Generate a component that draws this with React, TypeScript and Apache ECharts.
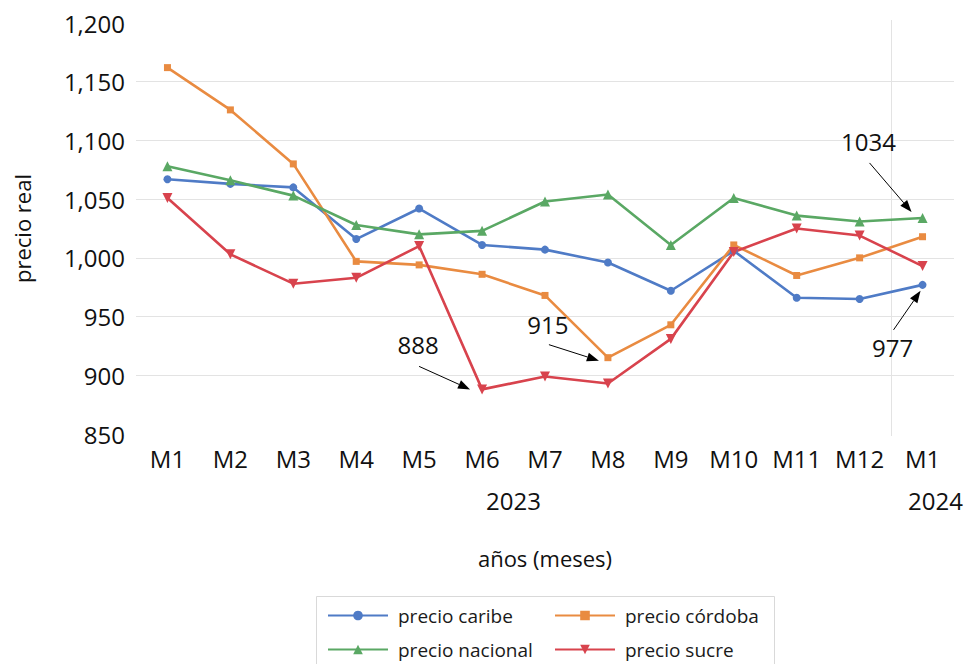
import React, { useEffect, useRef } from 'react';
import * as echarts from 'echarts';

const categories = ['M1', 'M2', 'M3', 'M4', 'M5', 'M6', 'M7', 'M8', 'M9', 'M10', 'M11', 'M12', 'M1'];
const yearGroups = [
  { label: '2023', from: 0, to: 11 },
  { label: '2024', from: 12, to: 12 },
];
const yMin = 850;
const yMax = 1200;
const yInterval = 50;

const precioCaribe = [1067, 1063, 1060, 1016, 1042, 1011, 1007, 996, 972, 1006, 966, 965, 977];
const precioCordoba = [1162, 1126, 1080, 997, 994, 986, 968, 915, 943, 1011, 985, 1000, 1018];
const precioNacional = [1078, 1066, 1053, 1028, 1020, 1023, 1048, 1054, 1011, 1051, 1036, 1031, 1034];
const precioSucre = [1051, 1003, 978, 983, 1010, 888, 899, 893, 931, 1005, 1025, 1019, 993];

const seriesNames = ['precio caribe', 'precio córdoba', 'precio nacional', 'precio sucre'];
const seriesValues = [precioCaribe, precioCordoba, precioNacional, precioSucre];

const annotations = [
  { series: 3, index: 5, label: '888' },
  { series: 1, index: 7, label: '915' },
  { series: 2, index: 12, label: '1034' },
  { series: 0, index: 12, label: '977' },
];

// pixel offsets of the annotation pieces relative to the annotated point
const annotationLayout = [
  { text: [-64, -45], start: [-63, -23], tip: [-12, 0] },
  { text: [-60, -33], start: [-59, -13], tip: [-9, 3] },
  { text: [-54, -76], start: [-53, -55], tip: [-11, -6] },
  { text: [-30, 63], start: [-29, 45], tip: [-2, 6] },
];
// horizontal nudge of each year label from its group centre
const yearNudge = [0, 13];

const FONT = '"Open Sans", sans-serif';
const colors = ['#4f7bc6', '#e98b41', '#5aa864', '#d8434d'];
const symbols = ['circle', 'rect', 'triangle', 'path://M0,0 L10,0 L5,9 Z'];
const symbolSizes = [8, 7, 10, 10];

export default function App() {
  const ref = useRef<HTMLDivElement>(null);

  useEffect(() => {
    if (!ref.current) return;
    const chart = echarts.init(ref.current, undefined, { renderer: 'svg' });
    const legendCommon = {
      orient: 'vertical',
      top: 601,
      height: 120,
      itemWidth: 60,
      itemHeight: 12,
      itemGap: 15,
      textStyle: { fontSize: 19, fontFamily: FONT, color: '#1a1a1a', padding: [0, 0, 0, 5] },
    };
    const option: any = {
      animation: false,
      backgroundColor: '#ffffff',
      textStyle: { fontFamily: FONT },
      grid: { left: 136, right: 12, top: 23, bottom: 230, containLabel: false },
      legend: [
        { ...legendCommon, data: [seriesNames[0], seriesNames[2]], left: 322 },
        { ...legendCommon, data: [seriesNames[1], seriesNames[3]], left: 549 },
      ],
      xAxis: {
        type: 'category',
        data: categories,
        boundaryGap: true,
        axisLine: { show: false },
        axisTick: { show: false },
        axisLabel: { interval: 0, fontSize: 24, fontFamily: FONT, color: '#111', margin: 12 },
        splitLine: { show: false },
        name: 'años (meses)',
        nameLocation: 'middle',
        nameGap: 113,
        nameTextStyle: { fontSize: 22, fontFamily: FONT, color: '#111' },
      },
      yAxis: {
        type: 'value',
        min: yMin,
        max: yMax,
        interval: yInterval,
        axisLine: { show: false },
        axisTick: { show: false },
        axisLabel: {
          fontSize: 24,
          fontFamily: FONT,
          color: '#111',
          margin: 11,
          formatter: (v: number) => v.toLocaleString('en-US'),
        },
        splitLine: { show: true, showMinLine: false, showMaxLine: false, lineStyle: { color: '#e3e3e3', width: 1 } },
        name: 'precio real',
        nameLocation: 'middle',
        nameGap: 103,
        nameTextStyle: { fontSize: 22, fontFamily: FONT, color: '#111' },
      },
      series: seriesNames.map((name, i) => ({
        name,
        type: 'line',
        data: seriesValues[i],
        symbol: symbols[i],
        symbolSize: symbolSizes[i],
        showAllSymbol: true,
        lineStyle: { color: colors[i], width: 2.6 },
        itemStyle: { color: colors[i] },
        emphasis: { disabled: true },
        z: 3,
      })),
    };
    chart.setOption(option);

    const toPx = (x: number, y: number) =>
      chart.convertToPixel({ xAxisIndex: 0, yAxisIndex: 0 }, [x, y]) as number[];

    const graphics: any[] = [];
    // legend border
    graphics.push({
      type: 'rect',
      shape: { x: 316.5, y: 596.5, width: 458, height: 90 },
      style: { fill: 'none', stroke: '#d9d9d9', lineWidth: 1 },
      silent: true,
    });
    // separator between years
    const p11 = toPx(11, yMin);
    const p12 = toPx(12, yMin);
    const pTop = toPx(12, yMax);
    const sx = Math.round((p11[0] + p12[0]) / 2) + 0.5;
    graphics.push({
      type: 'line',
      shape: { x1: sx, y1: pTop[1] - 3, x2: sx, y2: p12[1] + 2 },
      style: { stroke: '#e3e3e3', lineWidth: 1 },
      silent: true,
      z: 0,
    });

    // year group labels
    yearGroups.forEach((g, k) => {
      const a = toPx(g.from, yMin);
      const b = toPx(g.to, yMin);
      graphics.push({
        type: 'text',
        x: (a[0] + b[0]) / 2 + yearNudge[k],
        y: a[1] + 66,
        style: { text: g.label, fontSize: 24, fontFamily: FONT, fill: '#111', align: 'center', verticalAlign: 'middle' },
        silent: true,
      });
    });

    annotations.forEach((a, k) => {
      const lay = annotationLayout[k];
      const p = toPx(a.index, seriesValues[a.series][a.index]);
      const sxA = p[0] + lay.start[0];
      const syA = p[1] + lay.start[1];
      const tx = p[0] + lay.tip[0];
      const ty = p[1] + lay.tip[1];
      const dx = tx - sxA;
      const dy = ty - syA;
      const len = Math.sqrt(dx * dx + dy * dy);
      const ux = dx / len;
      const uy = dy / len;
      const headLen = 12;
      const headHalf = 4.5;
      const bx = tx - ux * headLen;
      const by = ty - uy * headLen;
      graphics.push({
        type: 'text',
        x: p[0] + lay.text[0],
        y: p[1] + lay.text[1],
        style: { text: a.label, fontSize: 24, fontFamily: FONT, fill: '#111', align: 'center', verticalAlign: 'middle' },
        silent: true,
        z: 10,
      });
      graphics.push({
        type: 'line',
        shape: { x1: sxA, y1: syA, x2: bx, y2: by },
        style: { stroke: '#000', lineWidth: 1 },
        silent: true,
        z: 10,
      });
      graphics.push({
        type: 'polygon',
        shape: {
          points: [
            [tx, ty],
            [bx - uy * headHalf, by + ux * headHalf],
            [bx + uy * headHalf, by - ux * headHalf],
          ],
        },
        style: { fill: '#000' },
        silent: true,
        z: 10,
      });
    });

    chart.setOption({ graphic: graphics });

    return () => {
      chart.dispose();
    };
  }, []);

  return (
    <div
      ref={ref}
      style={{ position: 'fixed', left: 0, top: 0, width: 966, height: 664, background: '#fff' }}
    />
  );
}
